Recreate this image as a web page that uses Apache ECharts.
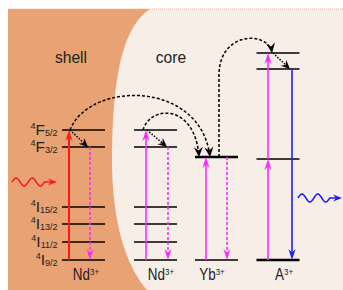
<!DOCTYPE html>
<html>
<head>
  <meta charset="UTF-8">
  <title>energy transfer</title>
  <script src="https://cdn.jsdelivr.net/npm/echarts@6/dist/echarts.min.js"></script>
  <style>
    * { padding: 0; margin: 0; }
    #box { width: 343px; height: 290px; }
  </style>
</head>
<body>
  <div id="box"></div>
  <script>
    // energies in arbitrary units (scheme is not to scale), x = position across the scheme
    var ndLevels = [0, 18, 36, 53, 113, 130];
    var ndTerms = [['I', '9/2'], ['I', '11/2'], ['I', '13/2'], ['I', '15/2'], ['F', '3/2'], ['F', '5/2']];
    var ybLevels = [0, 103];
    var aLevels = [0, 101, 191, 207];
    var ionNames = ['Nd', 'Nd', 'Yb', 'A'];
    var ionCenters = [83.5, 155.5, 216.5, 278];
    var ionLabelX = [86, 161, 212, 284];
    var regionNames = ['shell', 'core'];
    var regionX = [71, 171];
    // [x, from, to, kind]
    var transitions = [
      [69, 0, 130, 'pump'],
      [90, 113, 0, 'emitDash'],
      [146, 0, 130, 'abs'],
      [168, 113, 0, 'emitDash'],
      [206, 0, 103, 'abs'],
      [227, 103, 0, 'emitDash'],
      [268, 0, 101, 'abs'],
      [268, 101, 207, 'abs'],
      [292, 191, 0, 'emit']
    ];
    // energy transfer: [x1, E1, x2, E2, peak E, rise E]
    var transfers = [
      [70, 130, 210, 103, 164, null],
      [143, 130, 199, 103, 146, null],
      [219, 103, 272, 207, 221, 185]
    ];
    // non-radiative relaxation: [x1, E1, x2, E2]
    var relaxations = [
      [70, 130, 88, 113],
      [147, 130, 167, 113],
      [273, 207, 290, 191]
    ];
    // photons: [x1, x2, E]
    var photons = [
      [12, 57, 78, '#ff1a1a'],
      [298, 342, 62, '#1a1aff']
    ];

    var FONT = 'Liberation Sans, Arial, sans-serif';
    var HALF = 21.5;
    var styles = {
      pump: { color: '#ff1a1a', width: 2, dash: null },
      abs: { color: '#ff2cff', width: 1.6, dash: null },
      emitDash: { color: '#ff2cff', width: 1.6, dash: [3, 2] },
      emit: { color: '#2020ff', width: 1.6, dash: null }
    };

    function unit(a, b) {
      var dx = b[0] - a[0], dy = b[1] - a[1];
      var l = Math.sqrt(dx * dx + dy * dy) || 1;
      return [dx / l, dy / l];
    }
    function head(tip, u, len, half, notch, color) {
      var bx = tip[0] - u[0] * len, by = tip[1] - u[1] * len;
      return {
        type: 'polygon',
        shape: {
          points: [tip, [bx - u[1] * half, by + u[0] * half],
            [tip[0] - u[0] * (len - notch), tip[1] - u[1] * (len - notch)],
            [bx + u[1] * half, by - u[0] * half]]
        },
        style: { fill: color }
      };
    }
    function cubic(p0, p1, p2, p3, n, out) {
      for (var k = 0; k <= n; k++) {
        var t = k / n, m = 1 - t;
        out.push([
          m * m * m * p0[0] + 3 * m * m * t * p1[0] + 3 * m * t * t * p2[0] + t * t * t * p3[0],
          m * m * m * p0[1] + 3 * m * m * t * p1[1] + 3 * m * t * t * p2[1] + t * t * t * p3[1]
        ]);
      }
      return out;
    }

    // outline of the core (pixels)
    var corePts = [];
    cubic([150, 9], [125, 25], [112, 70], [112, 160], 30, corePts);
    cubic([112, 160], [112, 220], [125, 265], [147, 290], 30, corePts);
    corePts.push([343, 290], [343, 9]);

    var levelData = [];
    [ndLevels, ndLevels, ybLevels, aLevels].forEach(function (set, i) {
      set.forEach(function (e) { levelData.push([ionCenters[i], e, i]); });
    });

    var chart = echarts.init(document.getElementById('box'), null, { renderer: 'svg' });
    var option = {
      animation: false,
      grid: { left: 0, right: 0, top: 0, bottom: 0 },
      xAxis: { type: 'value', min: 0, max: 343, show: false },
      yAxis: { type: 'value', min: -30, max: 260, show: false },
      graphic: [
        { type: 'rect', z: -10, shape: { x: 8, y: 9, width: 335, height: 281 }, style: { fill: '#e9a274' } },
        { type: 'polygon', z: -9, shape: { points: corePts }, style: { fill: '#f7eee8' } },
        { type: 'line', z: -8, shape: { x1: 8, y1: 9, x2: 343, y2: 9 }, style: { stroke: '#eab48f', lineWidth: 1, lineDash: [1, 1] } }
      ],
      series: [
        {
          // energy levels
          type: 'custom',
          data: levelData,
          renderItem: function (params, api) {
            var c = api.value(0), e = api.value(1), ion = api.value(2);
            var p1 = api.coord([c - HALF, e]), p2 = api.coord([c + HALF, e]);
            var thick = (ion === 2 && e > 0) || (ion === 3 && e === 0);
            return {
              type: 'line',
              shape: { x1: p1[0], y1: p1[1], x2: p2[0], y2: p2[1] },
              style: { stroke: '#000', lineWidth: thick ? 2.4 : 1.6 }
            };
          }
        },
        {
          // level term labels
          type: 'custom',
          data: ndLevels.map(function (e) { return [57.5, e]; }),
          renderItem: function (params, api) {
            var p = api.coord([api.value(0), api.value(1)]);
            var t = ndTerms[params.dataIndex];
            return {
              type: 'text', x: p[0], y: p[1] - 0.5,
              style: {
                text: '{sup|4}{main|' + t[0] + '}{sub|' + t[1] + '}',
                align: 'right', verticalAlign: 'middle',
                rich: {
                  sup: { fontSize: 9, fontFamily: FONT, fill: '#222', verticalAlign: 'top' },
                  main: { fontSize: 15.5, fontFamily: FONT, fill: '#222' },
                  sub: { fontSize: 9, fontFamily: FONT, fill: '#222', verticalAlign: 'bottom' }
                }
              }
            };
          }
        },
        {
          // ion names + shell / core
          type: 'custom',
          data: ionLabelX.map(function (x) { return [x, -15]; }).concat(regionX.map(function (x) { return [x, 203]; })),
          renderItem: function (params, api) {
            var p = api.coord([api.value(0), api.value(1)]);
            var i = params.dataIndex;
            var isIon = i < ionNames.length;
            return {
              type: 'text', x: p[0], y: p[1], scaleX: isIon ? 0.84 : 0.92,
              style: isIon ? {
                text: '{b|' + ionNames[i] + '}{s|3+}',
                align: 'center', verticalAlign: 'middle',
                rich: {
                  b: { fontSize: 16, fontFamily: FONT, fill: '#222' },
                  s: { fontSize: 9.5, fontFamily: FONT, fill: '#222', verticalAlign: 'top' }
                }
              } : {
                text: regionNames[i - ionNames.length],
                align: 'center', verticalAlign: 'middle',
                fontSize: 17, fontFamily: FONT, fill: '#222'
              }
            };
          }
        },
        {
          // radiative transitions
          type: 'custom',
          data: transitions.map(function (t) { return [t[0], t[1], t[0], t[2]]; }),
          renderItem: function (params, api) {
            var s = styles[transitions[params.dataIndex][3]];
            var p1 = api.coord([api.value(0), api.value(1)]);
            var p2 = api.coord([api.value(2), api.value(3)]);
            var u = unit(p1, p2);
            return {
              type: 'group',
              children: [
                {
                  type: 'line',
                  shape: { x1: p1[0], y1: p1[1], x2: p2[0] - u[0] * 7, y2: p2[1] - u[1] * 7 },
                  style: { stroke: s.color, lineWidth: s.width, lineDash: s.dash }
                },
                head(p2, u, 11, 3.6, 3.5, s.color)
              ]
            };
          }
        },
        {
          // energy transfer arcs
          type: 'custom',
          data: transfers.map(function (t) { return [t[0], t[1], t[2], t[3]]; }),
          renderItem: function (params, api) {
            var t = transfers[params.dataIndex];
            var x1 = t[0], y1 = t[1], x2 = t[2], y2 = t[3], peak = t[4], rise = t[5];
            var pts = [];
            var start = [x1, y1], c1x = x1 + 0.14 * (x2 - x1);
            if (rise !== null) {
              pts.push(api.coord([x1, y1]));
              start = [x1, rise];
              c1x = x1;
            }
            var c = (peak - 0.125 * (start[1] + y2)) / 0.75;
            var P0 = api.coord(start), P1 = api.coord([c1x, c]);
            var P2 = api.coord([x2 - 0.06 * (x2 - x1), c]), P3 = api.coord([x2, y2]);
            cubic(P0, P1, P2, P3, 40, pts);
            return {
              type: 'group',
              children: [
                { type: 'polyline', shape: { points: pts }, style: { stroke: '#000', lineWidth: 1.5, lineDash: [3, 2], fill: null } },
                head(P3, unit(P2, P3), 10, 4.5, 3.5, '#000')
              ]
            };
          }
        },
        {
          // relaxation
          type: 'custom',
          data: relaxations,
          renderItem: function (params, api) {
            var p1 = api.coord([api.value(0), api.value(1)]);
            var p2 = api.coord([api.value(2), api.value(3)]);
            var u = unit(p1, p2);
            return {
              type: 'group',
              children: [
                {
                  type: 'line',
                  shape: { x1: p1[0], y1: p1[1], x2: p2[0] - u[0] * 6, y2: p2[1] - u[1] * 6 },
                  style: { stroke: '#000', lineWidth: 1.5, lineDash: [1.5, 1.5] }
                },
                head(p2, u, 9, 4, 3, '#000')
              ]
            };
          }
        },
        {
          // photons
          type: 'custom',
          data: photons.map(function (p) { return [p[0], p[2], p[1], p[2]]; }),
          renderItem: function (params, api) {
            var color = photons[params.dataIndex][3];
            var p1 = api.coord([api.value(0), api.value(1)]);
            var p2 = api.coord([api.value(2), api.value(3)]);
            var waveLen = (p2[0] - p1[0]) * 0.72;
            var pts = [];
            for (var k = 0; k <= 40; k++) {
              var x = p1[0] + waveLen * k / 40;
              pts.push([x, p1[1] - 4 * Math.sin(2 * Math.PI * 2 * k / 40)]);
            }
            pts.push([p2[0] - 5, p2[1]]);
            return {
              type: 'group',
              children: [
                { type: 'polyline', shape: { points: pts }, style: { stroke: color, lineWidth: 1.5, fill: null } },
                head(p2, [1, 0], 9, 3.5, 3, color)
              ]
            };
          }
        }
      ]
    };
    chart.setOption(option);
  </script>
</body>
</html>
